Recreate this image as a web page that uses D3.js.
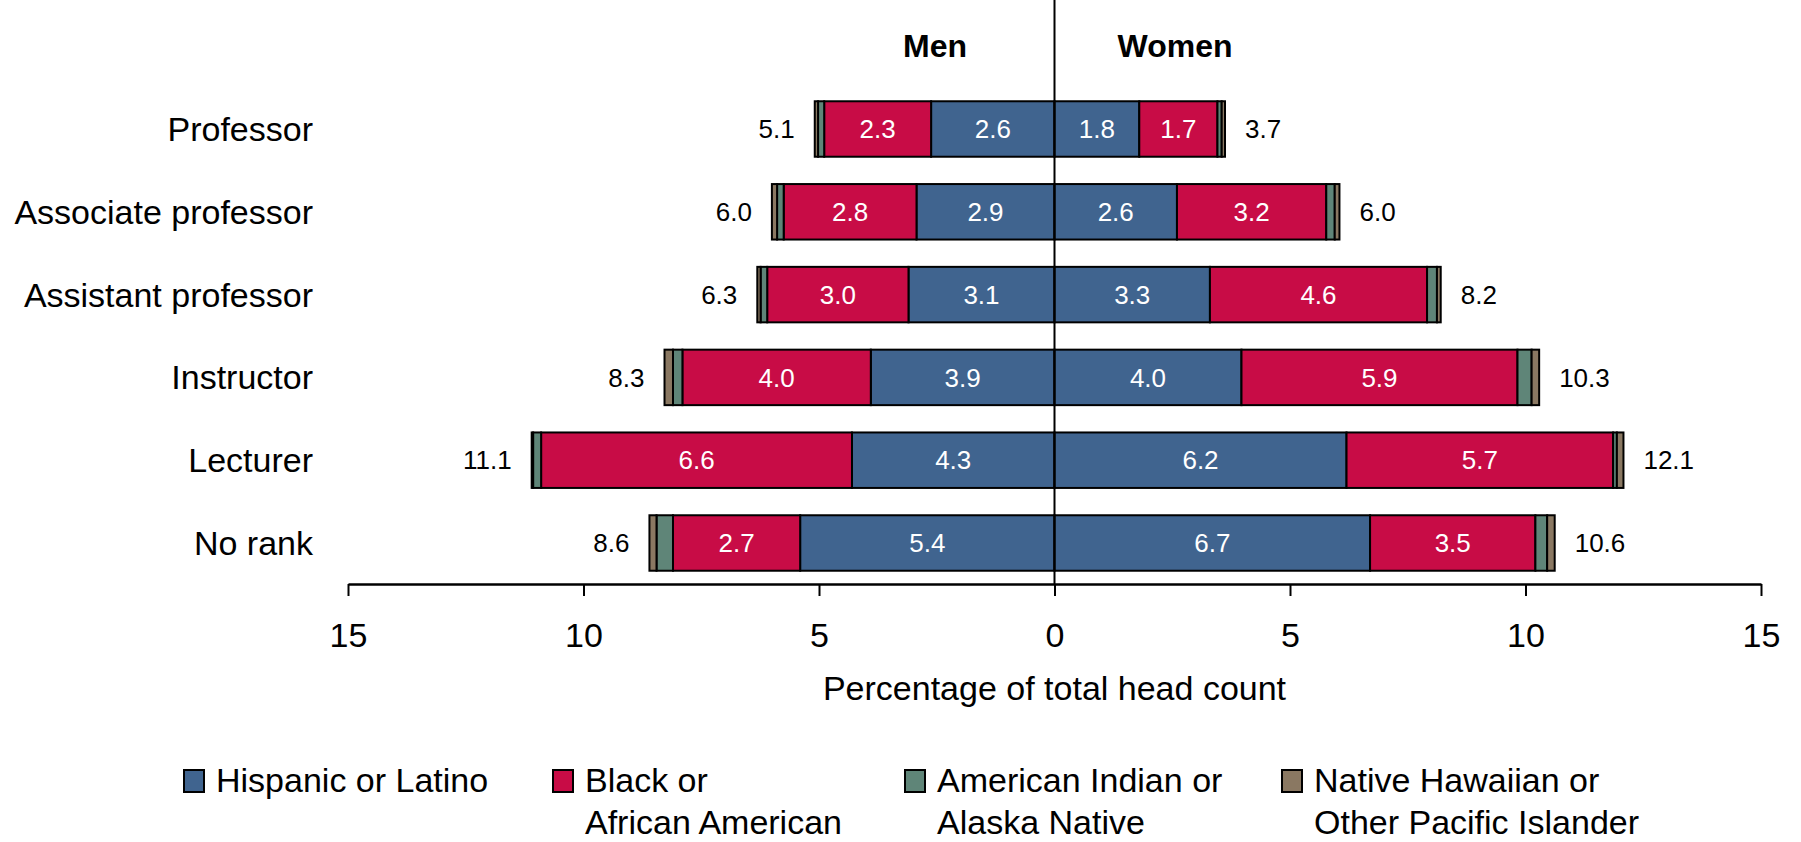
<!DOCTYPE html>
<html>
<head>
<meta charset="utf-8">
<script src="https://cdn.jsdelivr.net/npm/d3@7"></script>
<style>
  body { margin: 0; background: #fff; }
  svg { display: block; font-family: "Liberation Sans", Arial, sans-serif; }
</style>
</head>
<body>
<svg width="1801" height="842" viewBox="0 0 1801 842"></svg>
<script>
// Categories (top to bottom)
const ranks = ["Professor", "Associate professor", "Assistant professor", "Instructor", "Lecturer", "No rank"];

// Series keys and legend text
const groups = ["Hispanic or Latino", "Black or African American", "American Indian or Alaska Native", "Native Hawaiian or Other Pacific Islander"];
const legendLines = [["Hispanic or Latino"], ["Black or", "African American"], ["American Indian or", "Alaska Native"], ["Native Hawaiian or", "Other Pacific Islander"]];

// Men, percentage of total head count
const menHispanic = [2.62, 2.93, 3.1, 3.9, 4.3, 5.4];
const menBlack    = [2.27, 2.82, 3.0, 4.0, 6.6, 2.7];
const menAIAN     = [0.13, 0.14, 0.14, 0.2, 0.17, 0.35];
const menNHPI     = [0.07, 0.11, 0.07, 0.18, 0.03, 0.15];
const menTotal    = ["5.1", "6.0", "6.3", "8.3", "11.1", "8.6"];

// Women, percentage of total head count
const womenHispanic = [1.8, 2.6, 3.3, 3.97, 6.2, 6.7];
const womenBlack    = [1.66, 3.17, 4.61, 5.86, 5.66, 3.51];
const womenAIAN     = [0.09, 0.18, 0.21, 0.3, 0.08, 0.25];
const womenNHPI     = [0.07, 0.1, 0.08, 0.16, 0.14, 0.16];
const womenTotal    = ["3.7", "6.0", "8.2", "10.3", "12.1", "10.6"];

const tickVals = [-15, -10, -5, 0, 5, 10, 15];

const colors = ["#40648f", "#c80c46", "#5f8578", "#8a7862"];

const svg = d3.select("svg");

const x = d3.scaleLinear().domain([-15, 15]).range([348, 1761]);
const y = d3.scaleBand().domain(ranks).range([87.6, 584.4])
    .paddingInner(0.33).paddingOuter(0.165);

// Build rows for stacking
function rows(h, b, a, n) {
    return ranks.map((r, i) => ({
        rank: r,
        [groups[0]]: h[i], [groups[1]]: b[i], [groups[2]]: a[i], [groups[3]]: n[i]
    }));
}
const stack = d3.stack().keys(groups);
const sides = [
    { sign: -1, series: stack(rows(menHispanic, menBlack, menAIAN, menNHPI)), totals: menTotal },
    { sign: 1, series: stack(rows(womenHispanic, womenBlack, womenAIAN, womenNHPI)), totals: womenTotal }
];

const barG = svg.append("g");
sides.forEach(side => {
    side.series.forEach((s, k) => {
        const g = barG.append("g");
        g.selectAll("rect")
            .data(s)
            .enter()
            .append("rect")
            .attr("x", d => Math.min(x(side.sign * d[0]), x(side.sign * d[1])))
            .attr("width", d => Math.abs(x(d[1]) - x(d[0])))
            .attr("y", d => y(d.data.rank))
            .attr("height", y.bandwidth())
            .attr("fill", colors[k])
            .attr("stroke", "#000")
            .attr("stroke-width", 2);

        // value labels only for the two large groups
        if (k < 2) {
            g.selectAll("text")
                .data(s)
                .enter()
                .append("text")
                .attr("x", d => x(side.sign * (d[0] + d[1]) / 2))
                .attr("y", d => y(d.data.rank) + y.bandwidth() / 2)
                .attr("dy", "0.35em")
                .attr("text-anchor", "middle")
                .attr("fill", "#fff")
                .attr("font-size", 26)
                .text(d => (d[1] - d[0]).toFixed(1));
        }
    });

    // totals at bar ends
    const last = side.series[side.series.length - 1];
    barG.append("g").selectAll("text")
        .data(last)
        .enter()
        .append("text")
        .attr("x", d => x(side.sign * d[1]) + side.sign * 20)
        .attr("y", d => y(d.data.rank) + y.bandwidth() / 2)
        .attr("dy", "0.35em")
        .attr("text-anchor", side.sign < 0 ? "end" : "start")
        .attr("font-size", 26)
        .attr("fill", "#000")
        .text((d, i) => side.totals[i]);
});

// Zero line over the bars
svg.append("line")
    .attr("x1", x(0)).attr("x2", x(0))
    .attr("y1", 0).attr("y2", 584)
    .attr("stroke", "#000")
    .attr("stroke-width", 2);

// Category labels
svg.append("g").selectAll("text")
    .data(ranks)
    .enter()
    .append("text")
    .attr("x", 313)
    .attr("y", d => y(d) + y.bandwidth() / 2)
    .attr("dy", "0.35em")
    .attr("text-anchor", "end")
    .attr("font-size", 34)
    .text(d => d);

// Men / Women headers
svg.append("text").attr("x", 935).attr("y", 57).attr("text-anchor", "middle")
    .attr("font-size", 32).attr("font-weight", "bold").text("Men");
svg.append("text").attr("x", 1175).attr("y", 57).attr("text-anchor", "middle")
    .attr("font-size", 32).attr("font-weight", "bold").text("Women");

// X axis
const axis = svg.append("g")
    .attr("transform", "translate(0,584)")
    .call(d3.axisBottom(x).tickValues(tickVals).tickFormat(d => Math.abs(d))
        .tickSize(12).tickSizeOuter(0).tickPadding(27));
axis.select(".domain").attr("stroke", "#000").attr("stroke-width", 2.5);
axis.selectAll(".tick line").attr("stroke", "#000").attr("stroke-width", 2);
axis.selectAll(".tick text").attr("font-size", 34).attr("fill", "#000")
    .attr("font-family", "Liberation Sans, Arial, sans-serif");

svg.append("text")
    .attr("x", x(0)).attr("y", 700)
    .attr("text-anchor", "middle")
    .attr("font-size", 34)
    .text("Percentage of total head count");

// Legend
const legendX = [184, 553, 905, 1282];
const legend = svg.append("g").selectAll("g")
    .data(groups)
    .enter()
    .append("g")
    .attr("transform", (d, i) => `translate(${legendX[i]},0)`);
legend.append("rect")
    .attr("x", 0).attr("y", 770)
    .attr("width", 20).attr("height", 22)
    .attr("fill", (d, i) => colors[i])
    .attr("stroke", "#000").attr("stroke-width", 2);
legend.each(function(d, i) {
    const t = d3.select(this).append("text")
        .attr("font-size", 34);
    legendLines[i].forEach((line, j) => {
        t.append("tspan").attr("x", 32).attr("y", 792 + j * 42).text(line);
    });
});
</script>
</body>
</html>
